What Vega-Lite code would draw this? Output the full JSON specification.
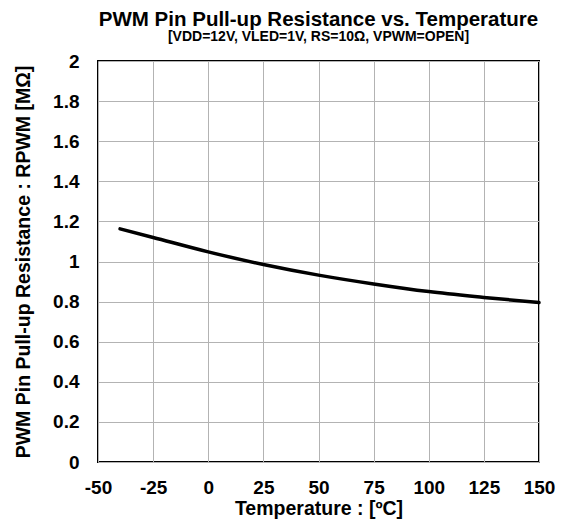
{
  "$schema": "https://vega.github.io/schema/vega-lite/v6.json",
  "autosize": {"type": "none"},
  "width": 441,
  "height": 401,
  "padding": {"left": 98, "top": 61, "right": 25, "bottom": 68},
  "background": "white",
  "title": {
    "text": "PWM Pin Pull-up Resistance vs. Temperature",
    "subtitle": "[VDD=12V, VLED=1V, RS=10Ω, VPWM=OPEN]",
    "font": "Liberation Sans",
    "fontSize": 20.5,
    "fontWeight": "bold",
    "color": "black",
    "subtitleFont": "Liberation Sans",
    "subtitleFontSize": 14,
    "subtitleFontWeight": "bold",
    "subtitleColor": "black",
    "subtitlePadding": 0,
    "anchor": "middle",
    "offset": 8
  },
  "data": {
    "values": [
      {"t": -40, "r": 1.163},
      {"t": -25, "r": 1.12},
      {"t": 0, "r": 1.048},
      {"t": 25, "r": 0.985},
      {"t": 50, "r": 0.932},
      {"t": 75, "r": 0.888},
      {"t": 100, "r": 0.85},
      {"t": 125, "r": 0.821},
      {"t": 150, "r": 0.795}
    ]
  },
  "mark": {"type": "line", "color": "black", "strokeWidth": 3.5, "interpolate": "monotone", "strokeCap": "round"},
  "encoding": {
    "x": {
      "field": "t",
      "type": "quantitative",
      "scale": {"domain": [-50, 150], "nice": false, "zero": false},
      "axis": {
        "title": "Temperature : [ºC]",
        "values": [-50, -25, 0, 25, 50, 75, 100, 125, 150],
        "labelExpr": "'' + datum.value",
        "labelPadding": 16,
        "titlePadding": 2
      }
    },
    "y": {
      "field": "r",
      "type": "quantitative",
      "scale": {"domain": [0, 2], "nice": false},
      "axis": {
        "title": "PWM Pin Pull-up Resistance : RPWM [MΩ]",
        "values": [0, 0.2, 0.4, 0.6, 0.8, 1, 1.2, 1.4, 1.6, 1.8, 2],
        "format": ".1~f",
        "labelPadding": 19,
        "titlePadding": 19
      }
    }
  },
  "config": {
    "view": {"stroke": "black", "strokeWidth": 2},
    "axis": {
      "domain": false,
      "ticks": false,
      "tickSize": 0,
      "grid": true,
      "gridColor": "#b3b3b3",
      "gridWidth": 1,
      "gridOpacity": 1,
      "labelFont": "Liberation Sans",
      "labelFontSize": 19,
      "labelFontWeight": "bold",
      "labelColor": "black",
      "labelOverlap": false,
      "labelFlush": false,
      "titleFont": "Liberation Sans",
      "titleFontSize": 19.5,
      "titleFontWeight": "bold",
      "titleColor": "black"
    }
  }
}
